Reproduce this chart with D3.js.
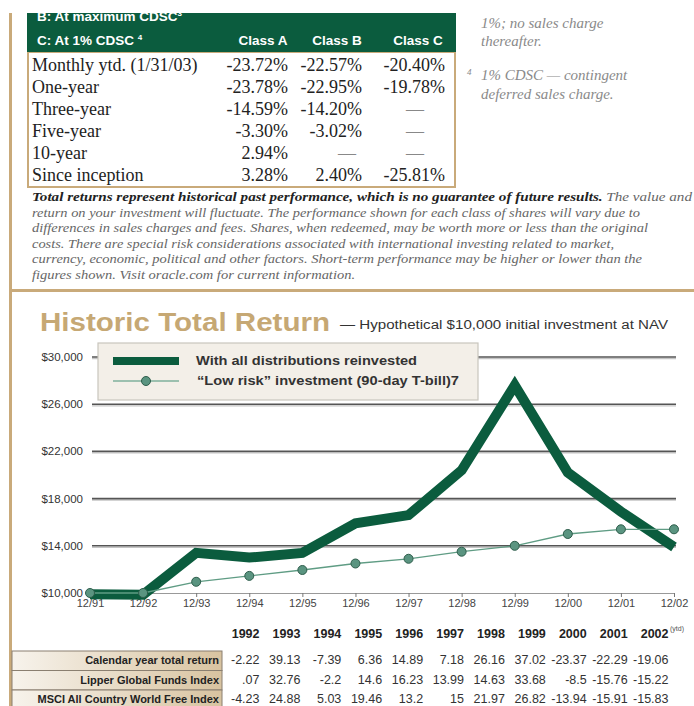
<!DOCTYPE html>
<html>
<head>
<meta charset="utf-8">
<script src="https://cdn.jsdelivr.net/npm/d3@7"></script>
<style>
  html, body { margin: 0; padding: 0; background: #fff; }
  svg { display: block; }
</style>
</head>
<body>
<svg id="page" width="694" height="706"></svg>
<script>
// ── Performance table (top) ──────────────────────────────────────────────────
const perfRows = ["Monthly ytd. (1/31/03)", "One-year", "Three-year", "Five-year", "10-year", "Since inception"];
const classA   = ["-23.72%", "-23.78%", "-14.59%", "-3.30%", "2.94%", "3.28%"];
const classB   = ["-22.57%", "-22.95%", "-14.20%", "-3.02%", "—", "2.40%"];
const classC   = ["-20.40%", "-19.78%", "—", "—", "—", "-25.81%"];
const classHeads = ["Class A", "Class B", "Class C"];

const disclaimer = [
    ["Total returns represent historical past performance, which is no guarantee of future results.", " The value and"],
    ["", "return on your investment will fluctuate. The performance shown for each class of shares will vary due to"],
    ["", "differences in sales charges and fees. Shares, when redeemed, may be worth more or less than the original"],
    ["", "costs. There are special risk considerations associated with international investing related to market,"],
    ["", "currency, economic, political and other factors. Short-term performance may be higher or lower than the"],
    ["", "figures shown. Visit oracle.com for current information."]
];
const disclaimerWidths = [660, 608, 616, 582, 610, 323];

// ── Chart data ───────────────────────────────────────────────────────────────
const periods = ["12/91", "12/92", "12/93", "12/94", "12/95", "12/96", "12/97", "12/98", "12/99", "12/00", "12/01", "12/02"];
const reinvested = [9900, 9850, 13400, 13000, 13400, 15900, 16600, 20400, 27600, 20200, 16900, 13900];
const tBill      = [10000, 10000, 10950, 11450, 11950, 12500, 12900, 13500, 14000, 15000, 15400, 15400];
const yTicks = [10000, 14000, 18000, 22000, 26000, 30000];

// ── Calendar year table (bottom) ─────────────────────────────────────────────
const calYears = ["1992", "1993", "1994", "1995", "1996", "1997", "1998", "1999", "2000", "2001", "2002"];
const calRows  = ["Calendar year total return", "Lipper Global Funds Index", "MSCI All Country World Free Index"];
const calendarReturn = [-2.22, 39.13, -7.39, 6.36, 14.89, 7.18, 26.16, 37.02, -23.37, -22.29, -19.06];
const lipperGlobal   = [0.07, 32.76, -2.2, 14.6, 16.23, 13.99, 14.63, 33.68, -8.5, -15.76, -15.22];
const msciWorld      = [-4.23, 24.88, 5.03, 19.46, 13.2, 15, 21.97, 26.82, -13.94, -15.91, -15.83];

const TAN = "#c9aa7a", GREEN = "#0b5c3e", SANS = "'Liberation Sans', Arial, sans-serif",
      SERIF = "'Liberation Serif', 'Times New Roman', serif",
      NARROW = "'Liberation Sans Narrow', 'Liberation Sans', Arial, sans-serif";

const svg = d3.select("#page");

// page borders
svg.append("rect").attr("x", 9).attr("y", 13).attr("width", 3).attr("height", 693).attr("fill", TAN);
svg.append("rect").attr("x", 9).attr("y", 289).attr("width", 685).attr("height", 3).attr("fill", TAN);

// ── Top table ────────────────────────────────────────────────────────────────
const tbl = svg.append("g");
tbl.append("rect").attr("x", 28).attr("y", 52).attr("width", 427).attr("height", 135)
    .attr("fill", "#fff").attr("stroke", TAN).attr("stroke-width", 2);
tbl.append("rect").attr("x", 27).attr("y", 13).attr("width", 429).attr("height", 39).attr("fill", GREEN);
tbl.append("defs").append("clipPath").attr("id", "hdrClip")
    .append("rect").attr("x", 27).attr("y", 13).attr("width", 429).attr("height", 39);
tbl.append("text").attr("clip-path", "url(#hdrClip)").attr("x", 37).attr("y", 21)
    .attr("font-family", SANS).attr("font-weight", "bold").attr("font-size", 13.5).attr("fill", "#fff")
    .text("B: At maximum CDSC").append("tspan").attr("font-size", 8).attr("dy", -5).text("3");
tbl.append("text").attr("x", 37).attr("y", 45)
    .attr("font-family", SANS).attr("font-weight", "bold").attr("font-size", 13.5).attr("fill", "#fff")
    .text("C: At 1% CDSC ").append("tspan").attr("font-size", 8).attr("dy", -5).text("4");

const colRight = [288, 362, 445];
const colCenter = [263, 337, 418];
const dashCenter = [266, 347, 415];
tbl.selectAll(".hd").data(classHeads).join("text")
    .attr("x", (d, i) => colCenter[i]).attr("y", 45).attr("text-anchor", "middle")
    .attr("font-family", SANS).attr("font-weight", "bold").attr("font-size", 13.5).attr("fill", "#fff")
    .text(d => d);

const rowY = d3.scalePoint().domain(perfRows).range([71, 181]);
tbl.selectAll(".rl").data(perfRows).join("text")
    .attr("x", 32).attr("y", d => rowY(d))
    .attr("font-family", SERIF).attr("font-size", 18).attr("fill", "#222")
    .text(d => d);
[classA, classB, classC].forEach((col, ci) => {
    tbl.selectAll(null).data(col).join("text")
        .attr("x", d => d === "—" ? dashCenter[ci] : colRight[ci])
        .attr("y", (d, i) => rowY(perfRows[i]))
        .attr("text-anchor", d => d === "—" ? "middle" : "end")
        .attr("font-family", SERIF).attr("font-size", 18)
        .attr("fill", d => d === "—" ? "#888" : "#222")
        .text(d => d);
});

// side notes
const notes = svg.append("g").attr("font-family", SERIF).attr("font-style", "italic")
    .attr("font-size", 15).attr("fill", "#8a8a8a");
notes.append("text").attr("x", 481).attr("y", 28).text("1%; no sales charge");
notes.append("text").attr("x", 481).attr("y", 46).text("thereafter.");
notes.append("text").attr("x", 467).attr("y", 75).attr("font-size", 9).text("4");
notes.append("text").attr("x", 481).attr("y", 80).text("1% CDSC — contingent");
notes.append("text").attr("x", 481).attr("y", 99).text("deferred sales charge.");

// disclaimer
const disc = svg.append("g").attr("font-family", SERIF).attr("font-style", "italic").attr("font-size", 13);
disclaimer.forEach((ln, i) => {
    const t = disc.append("text").attr("x", 32).attr("y", 201 + i * 15.6)
        .attr("textLength", disclaimerWidths[i]).attr("lengthAdjust", "spacingAndGlyphs");
    if (ln[0]) t.append("tspan").attr("font-weight", "bold").attr("fill", "#222").text(ln[0]);
    t.append("tspan").attr("fill", "#666").text(ln[1]);
});

// ── Title ────────────────────────────────────────────────────────────────────
svg.append("text").attr("x", 40).attr("y", 331)
    .attr("font-family", SANS).attr("font-weight", "bold").attr("font-size", 25).attr("fill", "#c6a874")
    .attr("textLength", 290).attr("lengthAdjust", "spacingAndGlyphs")
    .text("Historic Total Return");
svg.append("text").attr("x", 340).attr("y", 329)
    .attr("font-family", SANS).attr("font-size", 12.5).attr("fill", "#333")
    .attr("textLength", 328).attr("lengthAdjust", "spacingAndGlyphs")
    .text("— Hypothetical $10,000 initial investment at NAV");

// ── Chart ────────────────────────────────────────────────────────────────────
const x = d3.scalePoint().domain(periods).range([90, 674]);
const y = d3.scaleLinear().domain([10000, 30000]).range([593, 357]);

const chart = svg.append("g");
// gridlines
chart.selectAll(".gs").data(yTicks.filter(d => d > 10000)).join("line")
    .attr("x1", 92).attr("x2", 676).attr("y1", d => y(d) + 1.6).attr("y2", d => y(d) + 1.6)
    .attr("stroke", "#c4c4c4").attr("stroke-width", 1.2);
chart.selectAll(".g").data(yTicks.filter(d => d > 10000)).join("line")
    .attr("x1", 92).attr("x2", 676).attr("y1", d => y(d)).attr("y2", d => y(d))
    .attr("stroke", "#555").attr("stroke-width", 1.6);
// x axis
const xAxis = chart.append("g").attr("transform", `translate(0,${y(10000)})`)
    .call(d3.axisBottom(x).tickSize(4).tickSizeOuter(0).tickPadding(2));
xAxis.select(".domain").attr("stroke", "#999").attr("stroke-width", 1.2);
xAxis.selectAll(".tick line").attr("stroke", "#777");
xAxis.selectAll(".tick text").attr("font-family", SANS).attr("font-size", 11).attr("fill", "#444");
// y labels
chart.selectAll(".yl").data(yTicks).join("text")
    .attr("x", 83).attr("y", d => y(d) + 4).attr("text-anchor", "end")
    .attr("font-family", SANS).attr("font-size", 11.5).attr("fill", "#333")
    .text(d => "$" + d3.format(",")(d));

// series
const line = d3.line().x((d, i) => x(periods[i])).y(d => y(d));
chart.append("path").datum(reinvested).attr("d", line)
    .attr("fill", "none").attr("stroke", GREEN).attr("stroke-width", 10).attr("stroke-linejoin", "miter");
chart.append("path").datum(tBill).attr("d", line)
    .attr("fill", "none").attr("stroke", "#5f9c84").attr("stroke-width", 1.3);
chart.selectAll(".dot").data(tBill).join("circle")
    .attr("cx", (d, i) => x(periods[i])).attr("cy", d => y(d)).attr("r", 4.5)
    .attr("fill", "#5a9480").attr("stroke", "#2f5e4c").attr("stroke-width", 1);

// legend
const lg = chart.append("g");
lg.append("rect").attr("x", 98).attr("y", 343).attr("width", 380).attr("height", 57)
    .attr("fill", "#f3efe8").attr("stroke", "#c9c5bd").attr("stroke-width", 1.2);
lg.append("rect").attr("x", 113).attr("y", 357).attr("width", 66).attr("height", 8).attr("fill", GREEN);
lg.append("line").attr("x1", 113).attr("x2", 179).attr("y1", 381).attr("y2", 381)
    .attr("stroke", "#7fb09c").attr("stroke-width", 1.5);
lg.append("circle").attr("cx", 146).attr("cy", 381).attr("r", 4.5)
    .attr("fill", "#5a9480").attr("stroke", "#2f5e4c").attr("stroke-width", 1);
lg.append("text").attr("x", 196).attr("y", 365)
    .attr("font-family", SANS).attr("font-weight", "bold").attr("font-size", 12).attr("fill", "#333")
    .attr("textLength", 221).attr("lengthAdjust", "spacingAndGlyphs")
    .text("With all distributions reinvested");
lg.append("text").attr("x", 197).attr("y", 385)
    .attr("font-family", SANS).attr("font-weight", "bold").attr("font-size", 12).attr("fill", "#333")
    .attr("textLength", 262).attr("lengthAdjust", "spacingAndGlyphs")
    .text("“Low risk” investment (90-day T-bill)7");

// ── Calendar table ───────────────────────────────────────────────────────────
const cx = d3.scalePoint().domain(calYears).range([249, 658]);
const bt = svg.append("g");
bt.selectAll(".yr").data(calYears).join("text")
    .attr("x", d => cx(d) + 10.5).attr("y", 638).attr("text-anchor", "end")
    .attr("font-family", NARROW).attr("font-weight", "bold").attr("font-size", 12.5).attr("fill", "#222")
    .text(d => d);
bt.append("text").attr("x", 670).attr("y", 631).attr("font-family", SANS).attr("font-size", 7)
    .attr("fill", "#555").text("(ytd)");

const grad = svg.append("defs").append("linearGradient").attr("id", "lbl").attr("x1", 0).attr("x2", 1);
grad.append("stop").attr("offset", "0%").attr("stop-color", "#f7f3ec");
grad.append("stop").attr("offset", "100%").attr("stop-color", "#d8c3a0");

const rowsY = d3.scalePoint().domain(calRows).range([664, 703]);
bt.selectAll(".cell").data(calRows).join("rect")
    .attr("x", 12).attr("y", d => rowsY(d) - 13).attr("width", 210).attr("height", 19.5)
    .attr("fill", "url(#lbl)").attr("stroke", "#8a7f70").attr("stroke-width", 1);
bt.selectAll(".lab").data(calRows).join("text")
    .attr("x", 219).attr("y", d => rowsY(d)).attr("text-anchor", "end")
    .attr("font-family", NARROW).attr("font-weight", "bold").attr("font-size", 11).attr("fill", "#222")
    .text(d => d);

const fmt = v => String(v).replace(/^0\./, ".").replace(/^-0\./, "-.");
[calendarReturn, lipperGlobal, msciWorld].forEach((vals, ri) => {
    bt.selectAll(null).data(vals).join("text")
        .attr("x", (d, i) => cx(calYears[i]) + 10.5).attr("y", rowsY(calRows[ri]))
        .attr("text-anchor", "end")
        .attr("font-family", NARROW).attr("font-size", 12.5).attr("fill", "#333")
        .text(d => fmt(d));
});
</script>
</body>
</html>
